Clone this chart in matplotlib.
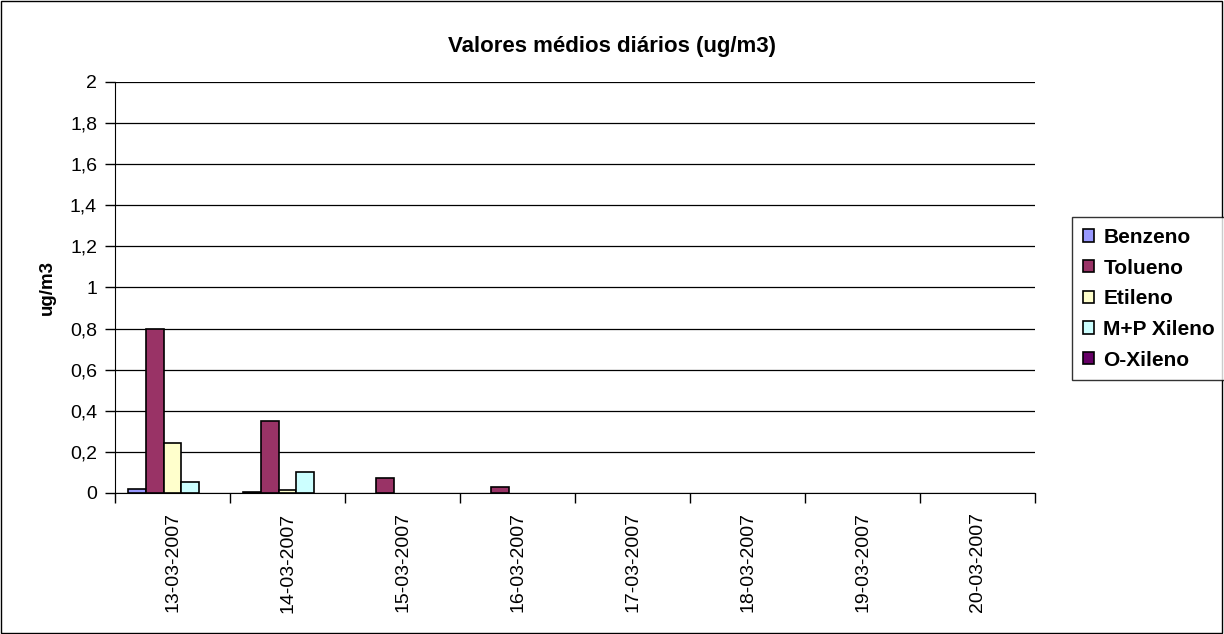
import numpy as np
import matplotlib.pyplot as plt
from matplotlib.patches import Rectangle, Patch

plt.rcParams['font.family'] = ['Liberation Sans', 'DejaVu Sans']

# dates on the x axis and daily mean values (ug/m3) per compound
dates = ['13-03-2007', '14-03-2007', '15-03-2007', '16-03-2007',
         '17-03-2007', '18-03-2007', '19-03-2007', '20-03-2007']
series_names = ['Benzeno', 'Tolueno', 'Etileno', 'M+P Xileno', 'O-Xileno']
benzeno = [0.02, 0.005, 0, 0, 0, 0, 0, 0]
tolueno = [0.80, 0.35, 0.075, 0.03, 0, 0, 0, 0]
etileno = [0.245, 0.015, 0, 0, 0, 0, 0, 0]
mp_xileno = [0.055, 0.10, 0, 0, 0, 0, 0, 0]
o_xileno = [0, 0, 0, 0, 0, 0, 0, 0]
colors = ['#9999FF', '#993366', '#FFFFCC', '#CCFFFF', '#660066']

fig = plt.figure(figsize=(12.24, 6.34), dpi=100)
fig.patches.append(Rectangle((0.001, 0.002), 0.997, 0.996, transform=fig.transFigure,
                             fill=False, edgecolor='black', linewidth=1))
ax = fig.add_axes([0.094, 0.2224, 0.7516, 0.6483])

x = np.arange(len(dates))
w = 1 / 6.5
all_series = [benzeno, tolueno, etileno, mp_xileno, o_xileno]
for i, (vals, c) in enumerate(zip(all_series, colors)):
    # zero values get no outline so they disappear like in Excel
    lw = [1.2 if v > 0 else 0 for v in vals]
    ax.bar(x + (i - 2) * w, vals, width=w, color=c, edgecolor='black',
           linewidth=lw, zorder=3)

ax.set_xlim(-0.5, len(dates) - 0.5)
ax.set_ylim(0, 2)
ax.set_yticks(np.arange(0, 2.01, 0.2))
ax.set_yticklabels(['0', '0,2', '0,4', '0,6', '0,8', '1', '1,2', '1,4', '1,6', '1,8', '2'],
                   fontsize=14)
ax.set_xticks(x)
ax.set_xticklabels(dates, rotation=90, fontsize=14)
ax.set_xticks(np.arange(-0.5, len(dates)), minor=True)
ax.tick_params(axis='x', which='major', length=0, pad=14)
ax.tick_params(axis='x', which='minor', length=7, width=1, direction='out')
ax.tick_params(axis='y', length=7, width=1, direction='out', pad=6)
ax.grid(axis='y', color='black', linewidth=0.9, zorder=0)
for s in ['top', 'right']:
    ax.spines[s].set_visible(False)

ax.set_ylabel('ug/m3', fontsize=13.5, fontweight='bold', labelpad=10)
fig.text(0.5, 0.926, 'Valores médios diários (ug/m3)', ha='center', va='center',
         fontsize=16, fontweight='bold')

handles = [Patch(facecolor=c, edgecolor='black', linewidth=1.2) for c in colors]
leg = fig.legend(handles, series_names, loc='upper left', bbox_to_anchor=(0.876, 0.657),
                 frameon=True, fancybox=False, edgecolor='black',
                 prop={'weight': 'bold', 'size': 15},
                 handlelength=0.55, handleheight=0.55, handletextpad=0.45,
                 labelspacing=0.56, borderaxespad=0, borderpad=0.5)
leg.get_frame().set_linewidth(1)

plt.savefig('out.png', dpi=100)
